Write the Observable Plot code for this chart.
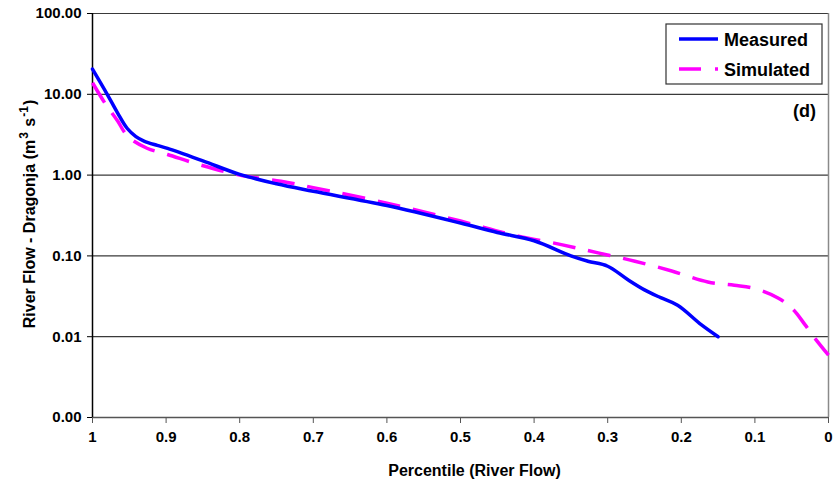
<!DOCTYPE html>
<html>
<head>
<meta charset="utf-8">
<script src="https://cdn.jsdelivr.net/npm/d3@7"></script>
<script src="https://cdn.jsdelivr.net/npm/@observablehq/plot@0.6"></script>
<style>
  html, body { margin: 0; padding: 0; background: #fff; }
  #chart { width: 840px; height: 482px; }
  svg { display: block; }
</style>
</head>
<body>
<div id="chart"></div>
<script>
// ---- data ----
const measuredPercentile = [1.00, 0.98, 0.966, 0.953, 0.941, 0.93, 0.912, 0.898, 0.85, 0.80, 0.75, 0.70, 0.60, 0.50, 0.45, 0.40, 0.35, 0.327, 0.30, 0.273, 0.25, 0.228, 0.205, 0.173, 0.15];
const measuredFlow       = [20.5, 10, 5.9, 3.8, 3.0, 2.64, 2.33, 2.14, 1.5, 1.02, 0.78, 0.63, 0.42, 0.255, 0.195, 0.154, 0.10, 0.086, 0.0745, 0.051, 0.038, 0.0304, 0.0245, 0.0141, 0.010];

const simulatedPercentile = [1.00, 0.982, 0.966, 0.957, 0.948, 0.926, 0.898, 0.853, 0.80, 0.744, 0.70, 0.60, 0.50, 0.431, 0.363, 0.313, 0.263, 0.213, 0.164, 0.128, 0.10, 0.068, 0.048, 0.032, 0.019, 0.00];
const simulatedFlow       = [13.9, 7.5, 4.7, 3.44, 2.8, 2.15, 1.8, 1.33, 1.0, 0.84, 0.70, 0.45, 0.27, 0.184, 0.138, 0.109, 0.086, 0.065, 0.0475, 0.0434, 0.0395, 0.030, 0.0217, 0.0141, 0.0097, 0.0059];

const xTicks = [1, 0.9, 0.8, 0.7, 0.6, 0.5, 0.4, 0.3, 0.2, 0.1, 0];
const xTickLabels = ["1", "0.9", "0.8", "0.7", "0.6", "0.5", "0.4", "0.3", "0.2", "0.1", "0"];
const yTicks = [0.001, 0.01, 0.1, 1, 10, 100];
const yTickLabels = ["0.00", "0.01", "0.10", "1.00", "10.00", "100.00"];
const seriesNames = ["Measured", "Simulated"];

const measured = measuredPercentile.map((p, i) => ({p, v: measuredFlow[i]}));
const simulated = simulatedPercentile.map((p, i) => ({p, v: simulatedFlow[i]}));

const FONT = "'Liberation Sans', Arial, sans-serif";

const plot = Plot.plot({
  width: 840,
  height: 482,
  marginLeft: 92,
  marginRight: 12,
  marginTop: 13,
  marginBottom: 65,
  style: {fontFamily: FONT, fontWeight: "bold", color: "#000", background: "#fff"},
  x: {type: "linear", domain: [1, 0]},
  y: {type: "log", domain: [0.001, 100]},
  marks: [
    Plot.ruleY(yTicks.slice(1), {stroke: "#3a3a3a", strokeWidth: 1.2}),
    Plot.ruleX([0], {stroke: "#8a8a8a", strokeWidth: 1.5}),
    Plot.ruleY([0.001], {stroke: "#555", strokeWidth: 1.5}),
    Plot.ruleX([1], {stroke: "#000", strokeWidth: 1.5}),
    Plot.axisY({
      ticks: yTicks,
      tickFormat: d => yTickLabels[yTicks.indexOf(d)],
      tickSize: 5, tickPadding: 6, fontSize: 15, fontWeight: "bold",
      label: null, stroke: "#000"
    }),
    Plot.axisX({
      ticks: xTicks,
      tickFormat: d => xTickLabels[xTicks.indexOf(d)],
      tickSize: 6, tickPadding: 8, fontSize: 15, fontWeight: "bold",
      label: null, stroke: "#555"
    }),
    Plot.line(simulated, {x: "p", y: "v", stroke: "#ff00ff", strokeWidth: 3.5,
      strokeDasharray: "23,13", curve: "catmull-rom", strokeLinecap: "butt"}),
    Plot.line(measured, {x: "p", y: "v", stroke: "#0000ff", strokeWidth: 3.5,
      curve: "catmull-rom"})
  ]
});

document.getElementById("chart").appendChild(plot);

const svg = d3.select(plot);

// Y-axis title with superscripts
const yt = svg.append("text")
  .attr("transform", "translate(35,214) rotate(-90)")
  .attr("text-anchor", "middle")
  .attr("font-family", FONT).attr("font-weight", "bold").attr("font-size", 16)
  .attr("fill", "#000");
yt.append("tspan").text("River Flow - Dragonja (m");
yt.append("tspan").attr("dx", 1).attr("dy", -7).attr("font-size", 12).text("3");
yt.append("tspan").attr("dx", 1).attr("dy", 7).text(" s");
yt.append("tspan").attr("dx", 1).attr("dy", -7).attr("font-size", 12).text("-1");
yt.append("tspan").attr("dx", 1).attr("dy", 7).text(")");

// X-axis title
svg.append("text")
  .attr("x", 474.5).attr("y", 476)
  .attr("text-anchor", "middle")
  .attr("font-family", FONT).attr("font-weight", "bold").attr("font-size", 16)
  .attr("fill", "#000")
  .text("Percentile (River Flow)");

// Panel label
svg.append("text")
  .attr("x", 816).attr("y", 117)
  .attr("text-anchor", "end")
  .attr("font-family", FONT).attr("font-weight", "bold").attr("font-size", 18)
  .attr("fill", "#000")
  .text("(d)");

// Legend
const lg = svg.append("g");
lg.append("rect").attr("x", 666).attr("y", 24).attr("width", 156).attr("height", 60)
  .attr("fill", "#fff").attr("stroke", "#333").attr("stroke-width", 1.2);
lg.append("line").attr("x1", 679).attr("x2", 718).attr("y1", 39).attr("y2", 39)
  .attr("stroke", "#0000ff").attr("stroke-width", 3.5);
lg.append("line").attr("x1", 679).attr("x2", 718).attr("y1", 69).attr("y2", 69)
  .attr("stroke", "#ff00ff").attr("stroke-width", 3.5).attr("stroke-dasharray", "22,14");
lg.append("text").attr("x", 724).attr("y", 46).attr("text-anchor", "start")
  .attr("font-family", FONT).attr("font-weight", "bold").attr("font-size", 18).attr("fill", "#000")
  .text(seriesNames[0]);
lg.append("text").attr("x", 724).attr("y", 76).attr("text-anchor", "start")
  .attr("font-family", FONT).attr("font-weight", "bold").attr("font-size", 18).attr("fill", "#000")
  .text(seriesNames[1]);
</script>
</body>
</html>
